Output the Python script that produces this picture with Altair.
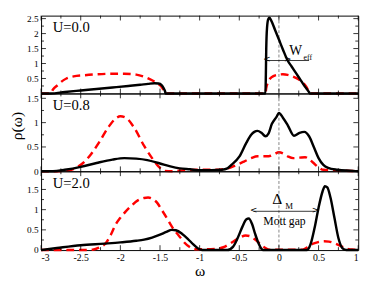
import altair as alt
import pandas as pd

FONT = "Liberation Serif"

# ---------------- data (omega, rho) ----------------
# U = 0.0
u0_black_w = [-3.0, -2.88, -2.7, -2.5, -2.3, -2.1, -1.9, -1.75, -1.65, -1.57, -1.52, -1.48, -1.455, -1.435, -1.43,
              -0.17, -0.165, -0.16, -0.15, -0.135, -0.12, -0.1, -0.05, 0.0, 0.05, 0.11, 0.16, 0.22, 0.28, 0.33, 0.36, 0.38, 0.39, 1.0]
u0_black_r = [0, 0, 0.05, 0.1, 0.15, 0.2, 0.25, 0.29, 0.32, 0.34, 0.33, 0.28, 0.18, 0.06, 0,
              0, 0.6, 1.5, 2.2, 2.48, 2.53, 2.45, 2.13, 1.8, 1.47, 1.1, 0.9, 0.66, 0.42, 0.22, 0.12, 0.04, 0, 0]
u0_red_w = [-3.0, -2.88, -2.85, -2.79, -2.73, -2.68, -2.59, -2.45, -2.3, -2.1, -1.95, -1.8, -1.7, -1.6, -1.53, -1.49, -1.46, -1.43,
            -0.17, -0.16, -0.14, -0.11, -0.07, 0.0, 0.05, 0.11, 0.17, 0.22, 0.26, 0.3, 0.34, 0.37, 0.39, 1.0]
u0_red_r = [0, 0, 0.13, 0.28, 0.42, 0.5, 0.57, 0.61, 0.64, 0.66, 0.66, 0.63, 0.56, 0.44, 0.33, 0.25, 0.14, 0,
            0, 0.18, 0.36, 0.5, 0.58, 0.63, 0.64, 0.62, 0.57, 0.51, 0.45, 0.36, 0.24, 0.1, 0, 0]

# U = 0.8
u08_black_w = [-3.0, -2.85, -2.7, -2.5, -2.3, -2.1, -1.95, -1.8, -1.66, -1.5, -1.37, -1.25, -1.12, -1.0, -0.85,
               -0.72, -0.65, -0.6, -0.5, -0.41, -0.35, -0.31, -0.27, -0.22, -0.17, -0.13, -0.09, -0.03, 0.0, 0.05, 0.11,
               0.19, 0.26, 0.32, 0.38, 0.44, 0.5, 0.56, 0.62, 0.74, 0.9, 1.0]
u08_black_r = [0, 0.0, 0.03, 0.09, 0.17, 0.24, 0.27, 0.26, 0.23, 0.16, 0.1, 0.06, 0.04, 0.02, 0.02,
               0.03, 0.06, 0.13, 0.3, 0.59, 0.75, 0.81, 0.83, 0.79, 0.72, 0.78, 0.97, 1.12, 1.2, 1.1, 0.95,
               0.73, 0.79, 0.81, 0.72, 0.5, 0.27, 0.13, 0.07, 0.03, 0.01, 0]
u08_red_w = [-3.0, -2.8, -2.65, -2.55, -2.47, -2.37, -2.27, -2.15, -2.07, -2.0, -1.93, -1.82, -1.7, -1.6, -1.52, -1.45, -1.35,
             -1.2, -1.0, -0.8, -0.65, -0.55, -0.44, -0.35, -0.27, -0.2, -0.13, -0.06, 0.0, 0.06, 0.12, 0.18, 0.26, 0.33,
             0.38, 0.43, 0.5, 0.56, 0.7, 0.85, 1.0]
u08_red_r = [0, 0, 0.02, 0.08, 0.17, 0.35, 0.59, 0.91, 1.07, 1.13, 1.1, 0.88, 0.52, 0.27, 0.1, 0.01, 0,
             0.02, 0.03, 0.03, 0.06, 0.12, 0.2, 0.27, 0.31, 0.31, 0.31, 0.35, 0.39, 0.36, 0.3, 0.27, 0.28, 0.29,
             0.25, 0.18, 0.08, 0.03, 0.02, 0.01, 0]

# U = 2.0
u2_black_w = [-3.0, -2.8, -2.5, -2.2, -2.0, -1.8, -1.7, -1.6, -1.5, -1.42, -1.35, -1.3, -1.22, -1.15, -1.08, -1.02, -0.97,
              -0.65, -0.58, -0.52, -0.46, -0.41, -0.38, -0.34, -0.3, -0.26, -0.22, -0.2,
              0.35, 0.4, 0.45, 0.5, 0.55, 0.58, 0.61, 0.65, 0.7, 0.75, 0.8, 0.85, 1.0]
u2_black_r = [0, 0.05, 0.12, 0.16, 0.19, 0.23, 0.26, 0.31, 0.38, 0.45, 0.5, 0.49, 0.4, 0.28, 0.14, 0.04, 0,
              0, 0.08, 0.3, 0.58, 0.76, 0.78, 0.65, 0.4, 0.18, 0.03, 0,
              0, 0.15, 0.55, 1.05, 1.45, 1.58, 1.55, 1.3, 0.8, 0.3, 0.05, 0, 0]
u2_red_w = [-3.0, -2.88, -2.5, -2.35, -2.27, -2.18, -2.12, -2.06, -2.0, -1.94, -1.86, -1.78, -1.7, -1.65, -1.6, -1.54, -1.48,
            -1.41, -1.35, -1.29, -1.23, -1.19, -1.13, -1.06, -1.0, -0.8, -0.7, -0.6, -0.5, -0.42, -0.36, -0.3, -0.23,
            -0.17, -0.12, 0.3, 0.36, 0.42, 0.5, 0.57, 0.63, 0.7, 0.77, 0.83, 0.88, 0.95, 1.0]
u2_red_r = [0, 0, 0.0, 0.01, 0.06, 0.18, 0.38, 0.63, 0.8, 0.94, 1.1, 1.23, 1.29, 1.3, 1.27, 1.18, 1.0,
            0.78, 0.58, 0.42, 0.28, 0.18, 0.08, 0.02, 0.02, 0.03, 0.07, 0.18, 0.3, 0.36, 0.34, 0.26, 0.14,
            0.05, 0.01, 0.01, 0.07, 0.15, 0.2, 0.22, 0.21, 0.17, 0.11, 0.05, 0.02, 0.01, 0]

# axis tick values
x_major = [-3, -2.5, -2, -1.5, -1, -0.5, 0, 0.5, 1]
x_minor = [-2.75, -2.25, -1.75, -1.25, -0.75, -0.25, 0.25, 0.75]
y_major_labels = [[0.5, 1, 1.5, 2, 2.5], [0, 0.5, 1, 1.5], [0, 0.5, 1, 1.5]]
y_major = [[0, 0.5, 1, 1.5, 2, 2.5], [0, 0.5, 1, 1.5], [0, 0.5, 1, 1.5]]
y_minor = [[0.25, 0.75, 1.25, 1.75, 2.25], [0.25, 0.75, 1.25], [0.25, 0.75, 1.25, 1.75]]
y_max = [2.6, 1.6, 1.95]
labels = ["U=0.0", "U=0.8", "U=2.0"]

# annotations (omega, rho)
weff_line = {"xa": [-0.155], "xb": [0.38], "ya": [1.1]}
weff_heads = {"xa": [-0.15, 0.11], "ya": [1.1, 1.1], "t": ["<", ">"]}
weff_text = {"xa": [0.21], "ya": [1.29], "t": ["W"]}
weff_sub = {"xa": [0.31], "ya": [1.13], "t": ["eff"]}

gap_line = {"xa": [-0.32], "xb": [0.46], "ya": [0.96]}
gap_heads = {"xa": [-0.32, 0.46], "ya": [0.96, 0.96], "t": ["<", ">"]}
gap_delta = {"xa": [-0.02], "ya": [1.14], "t": ["Δ"]}
gap_sub = {"xa": [0.08], "ya": [1.02], "t": ["M"]}
gap_text = {"xa": [0.07], "ya": [0.62], "t": ["Mott gap"]}

W = 326
HEIGHTS = [80, 80, 81]


def panel(i, bw, br, rw, rr, bottom, extra=None):
    h = HEIGHTS[i]
    xsc = alt.Scale(domain=[-3, 1], nice=False, zero=False)
    ysc = alt.Scale(domain=[0, y_max[i]], nice=False, zero=False)
    if bottom:
        xaxis = alt.Axis(values=x_major, labelExpr="'' + datum.value", ticks=False, domain=False, grid=False,
                         title="ω", labelFont=FONT, labelFontSize=10, labelPadding=3, labelColor="black",
                         titleFont=FONT, titleFontSize=16, titleFontWeight="normal", titlePadding=0,
                         titleColor="black")
    else:
        xaxis = None
    ykw = dict(values=y_major_labels[i], labelExpr="'' + datum.value", ticks=False, domain=False, grid=False,
               labelFont=FONT, labelFontSize=9.5, labelPadding=3, labelColor="black")
    if i == 1:
        ykw.update(title="ρ(ω)", titleFont=FONT, titleFontSize=16, titleFontWeight="normal", titlePadding=2,
                   titleColor="black", titleY=33)
    else:
        ykw.update(title="")
    yaxis = alt.Axis(**ykw)

    def X(f):
        return alt.X(f, scale=xsc, axis=xaxis)

    def Y(f):
        return alt.Y(f, scale=ysc, axis=yaxis)

    red = alt.Chart(pd.DataFrame({"w": rw, "r": rr})).mark_line(
        color="#ff0000", strokeWidth=2.5, strokeDash=[8, 5], interpolate="monotone"
    ).encode(x=X("w:Q"), y=Y("r:Q"))
    black = alt.Chart(pd.DataFrame({"w": bw, "r": br})).mark_line(
        color="black", strokeWidth=2.5, interpolate="monotone"
    ).encode(x=X("w:Q"), y=Y("r:Q"))
    zero = alt.Chart(pd.DataFrame({"w": [0]})).mark_rule(color="#666666", strokeWidth=0.8, strokeDash=[3, 2]).encode(
        x=X("w:Q"))
    lab = alt.Chart(pd.DataFrame({"t": [labels[i]]})).mark_text(
        align="left", baseline="alphabetic", font=FONT, fontSize=15, color="black", x=12, y=17
    ).encode(text="t:N")

    ticks = []
    for vals, ln in ((y_major[i], 5), (y_minor[i], 3)):
        d = pd.DataFrame({"r": vals})
        ticks.append(alt.Chart(d).mark_rule(color="black", strokeWidth=0.8, x=0, x2=ln).encode(y=Y("r:Q")))
        ticks.append(alt.Chart(d).mark_rule(color="black", strokeWidth=0.8, x=W, x2=W - ln).encode(y=Y("r:Q")))
    for vals, ln in ((x_major, 5), (x_minor, 3)):
        d = pd.DataFrame({"w": vals})
        ticks.append(alt.Chart(d).mark_rule(color="black", strokeWidth=0.8, y=h, y2=h - ln).encode(x=X("w:Q")))
        ticks.append(alt.Chart(d).mark_rule(color="black", strokeWidth=0.8, y=0, y2=ln).encode(x=X("w:Q")))

    layers = [red, zero] + ticks + [black, lab]
    if extra:
        layers += extra(X, Y)
    return alt.layer(*layers).properties(width=W, height=h)


def annot_line(X, Y, line, heads):
    return [
        alt.Chart(pd.DataFrame(line)).mark_rule(color="black", strokeWidth=0.8).encode(
            x=X("xa:Q"), x2="xb:Q", y=Y("ya:Q")),
        alt.Chart(pd.DataFrame(heads)).mark_text(font="DejaVu Sans", fontSize=9, color="black",
                                                 baseline="middle", dy=-1).encode(
            x=X("xa:Q"), y=Y("ya:Q"), text="t:N"),
    ]


def annot_text(X, Y, d, size, align="center"):
    return alt.Chart(pd.DataFrame(d)).mark_text(font=FONT, fontSize=size, color="black", align=align,
                                               baseline="alphabetic").encode(
        x=X("xa:Q"), y=Y("ya:Q"), text="t:N")


def extra1(X, Y):
    return annot_line(X, Y, weff_line, weff_heads) + [
        annot_text(X, Y, weff_text, 14), annot_text(X, Y, weff_sub, 8, "left")]


def extra3(X, Y):
    return annot_line(X, Y, gap_line, gap_heads) + [
        annot_text(X, Y, gap_delta, 16), annot_text(X, Y, gap_sub, 9, "left"),
        annot_text(X, Y, gap_text, 12)]


p1 = panel(0, u0_black_w, u0_black_r, u0_red_w, u0_red_r, False, extra1)
p2 = panel(1, u08_black_w, u08_black_r, u08_red_w, u08_red_r, False)
p3 = panel(2, u2_black_w, u2_black_r, u2_red_w, u2_red_r, True, extra3)

chart = alt.VConcatChart(vconcat=[p1, p2, p3], spacing=0, bounds="flush").properties(
    padding={"left": 0, "top": 0, "right": 2, "bottom": 0}
).configure_view(stroke="black", strokeWidth=1).configure_concat(spacing=0)

chart.save("out.html", embed_options={"renderer": "svg", "actions": False})
